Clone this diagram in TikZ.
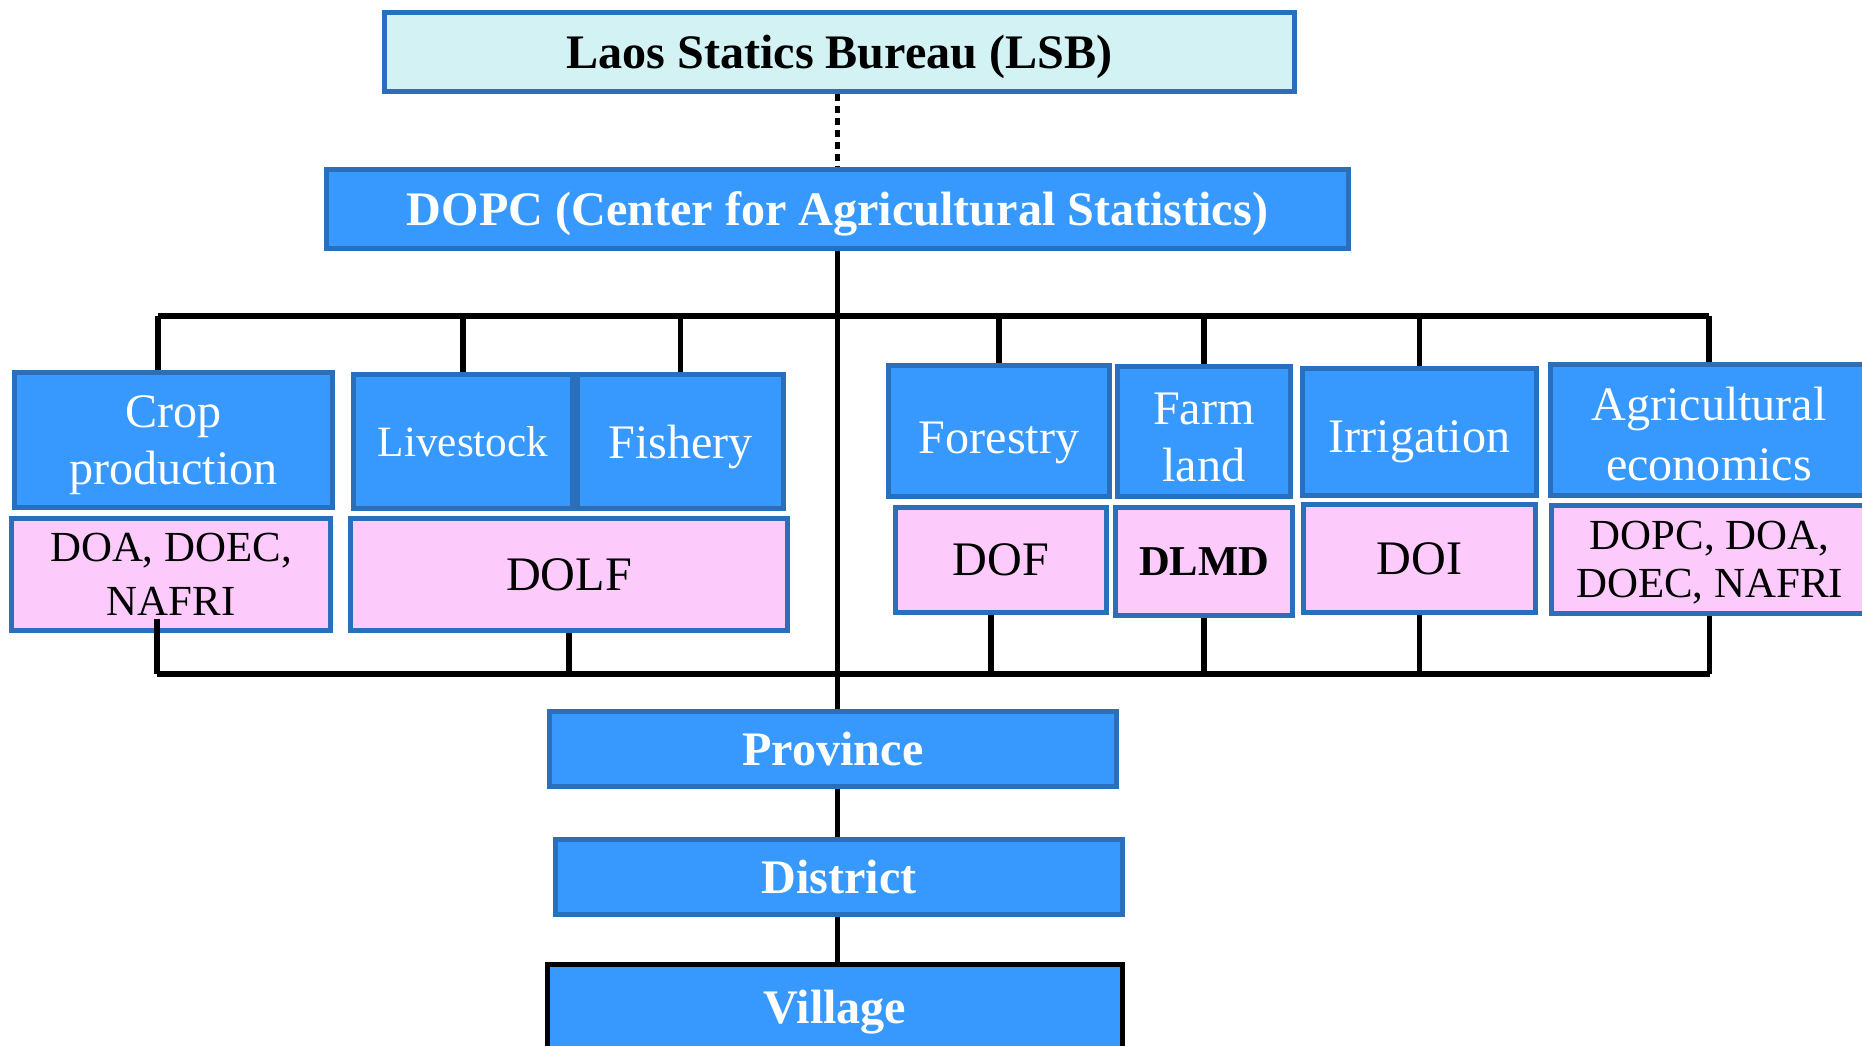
\documentclass[tikz,border=0pt]{standalone}
\usepackage{fontspec}
\setmainfont{Liberation Serif}
\definecolor{lsbfill}{HTML}{D2F2F4}
\definecolor{boxblue}{HTML}{3799FE}
\definecolor{boxline}{HTML}{2A6FBC}
\definecolor{boxpink}{HTML}{FCCBFC}
\begin{document}
\begin{tikzpicture}[
    box/.style={draw=boxline,line width=1.5pt,inner sep=0pt,align=center,text depth=0pt},
    levelbox/.style={box,fill=boxblue,text=white,font=\bfseries\fontsize{13.7}{16}\selectfont},
    unitbox/.style={box,fill=boxblue,text=white,font=\fontsize{13.7}{16.2}\selectfont},
    deptbox/.style={box,fill=boxpink,text=black,font=\fontsize{13.7}{16}\selectfont},
    link/.style={line width=1.5pt,black}
]
    \useasboundingbox (0,0) rectangle (18.62,-10.45);
    \clip (0,0) rectangle (18.62,-10.45);
    %% top
    \node[box,fill=lsbfill,font=\bfseries\fontsize{13.7}{16}\selectfont,minimum width=9.10cm,minimum height=0.79cm] (lsb) at (8.395,-0.52) {Laos Statics Bureau (LSB)};
    \node[levelbox,minimum width=10.22cm,minimum height=0.79cm] (dopc) at (8.375,-2.09) {DOPC (Center for Agricultural Statistics)};
    %% units
    \node[unitbox,minimum width=3.18cm,minimum height=1.35cm] (crop) at (1.735,-4.40) {Crop\\production};
    \node[unitbox,font=\fontsize{12.3}{14}\selectfont,minimum width=2.19cm,minimum height=1.34cm] (live) at (4.63,-4.415) {Livestock};
    \node[unitbox,minimum width=2.06cm,minimum height=1.34cm] (fish) at (6.805,-4.415) {Fishery};
    \node[unitbox,text height=0.45cm,minimum width=2.21cm,minimum height=1.31cm] (fore) at (9.99,-4.31) {Forestry};
    \node[unitbox,text height=1.0cm,minimum width=1.73cm,minimum height=1.30cm] (farm) at (12.04,-4.315) {Farm\\land};
    \node[unitbox,text height=0.4cm,minimum width=2.34cm,minimum height=1.27cm] (irri) at (14.195,-4.32) {Irrigation};
    \node[unitbox,font=\fontsize{13.7}{16.8}\selectfont,text height=1.0cm,minimum width=3.17cm,minimum height=1.31cm] (agec) at (17.09,-4.30) {Agricultural\\economics};
    %% departments
    \node[deptbox,font=\fontsize{12.2}{15.2}\selectfont,minimum width=3.19cm,minimum height=1.12cm] (cropd) at (1.71,-5.745) {DOA, DOEC,\\NAFRI};
    \node[deptbox,minimum width=4.37cm,minimum height=1.12cm] (dolf) at (5.69,-5.745) {DOLF};
    \node[deptbox,minimum width=2.11cm,minimum height=1.05cm] (dof) at (10.01,-5.60) {DOF};
    \node[deptbox,font=\bfseries\fontsize{12.1}{14}\selectfont,minimum width=1.77cm,minimum height=1.08cm] (dlmd) at (12.04,-5.615) {DLMD};
    \node[deptbox,minimum width=2.32cm,minimum height=1.08cm] (doi) at (14.195,-5.585) {DOI};
    \node[deptbox,font=\fontsize{12.2}{13.8}\selectfont,minimum width=3.16cm,minimum height=1.08cm] (agecd) at (17.095,-5.595) {DOPC, DOA,\\DOEC, NAFRI};
    %% levels
    \node[levelbox,minimum width=5.67cm,minimum height=0.75cm] (prov) at (8.33,-7.49) {Province};
    \node[levelbox,minimum width=5.67cm,minimum height=0.75cm] (dist) at (8.39,-8.77) {District};
    \node[levelbox,draw=black,minimum width=5.75cm,minimum height=0.85cm] (vill) at (8.35,-10.07) {Village};
    %% LSB and DOPC
    \draw[link,dash pattern=on 2pt off 1.4pt] (lsb.south -| dopc.north) -- (dopc.north);
    %% trunk
    \draw[link] (dopc.south) -- (dopc.south |- prov.north);
    \draw[link] (dopc.south |- prov.south) -- (dopc.south |- dist.north);
    \draw[link] (dopc.south |- dist.south) -- (dopc.south |- vill.north);
    %% upper bus
    \coordinate (tl) at (1.58,-3.16);
    \draw[link] (tl) -- (tl -| agec.north);
    \draw[link] (tl) -- (tl |- crop.north);
    \foreach \n in {live,fish,fore,farm,irri,agec} \draw[link] (\n.north |- tl) -- (\n.north);
    %% lower bus
    \coordinate (bl) at (1.57,-6.74);
    \draw[link] (bl) -- (bl -| agecd.south);
    \draw[link] (bl) -- ([yshift=0.14cm]bl |- cropd.south);
    \draw[link] ([xshift=-0.1cm]dof.south) -- ([xshift=-0.1cm]dof.south |- bl);
    \foreach \n in {dolf,dlmd,doi,agecd} \draw[link] (\n.south) -- (\n.south |- bl);
\end{tikzpicture}
\end{document}
